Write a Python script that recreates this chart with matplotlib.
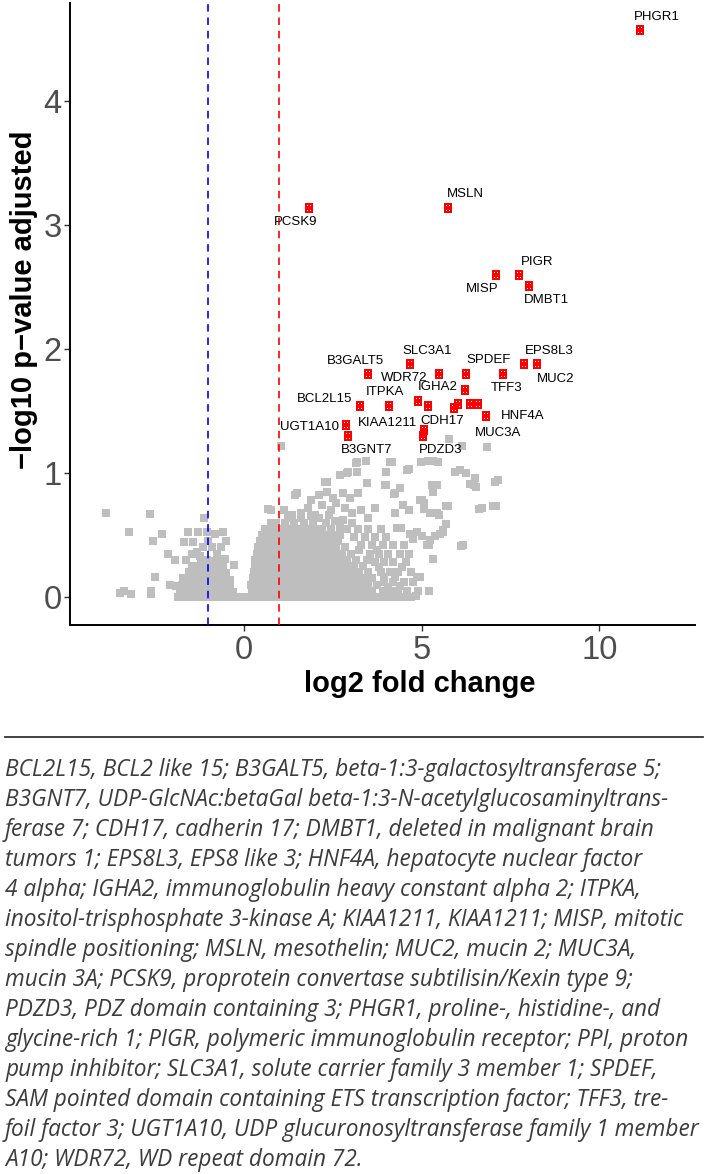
import numpy as np
import matplotlib.pyplot as plt
from matplotlib.path import Path

# significant genes: log2 fold change and -log10 adjusted p
sig_genes = ["PHGR1", "PCSK9", "MSLN", "MISP", "PIGR", "DMBT1",
             "B3GALT5", "SLC3A1", "WDR72", "SPDEF", "TFF3", "EPS8L3", "MUC2",
             "IGHA2", "BCL2L15", "ITPKA", "KIAA1211", "", "", "", "",
             "MUC3A", "HNF4A", "UGT1A10", "B3GNT7", "CDH17", "PDZD3"]
sig_fc = [11.14, 1.84, 5.73, 7.08, 7.75, 8.03,
          3.50, 4.66, 5.48, 6.24, 7.28, 7.87, 8.25,
          6.21, 3.28, 4.07, 4.89, 5.17, 5.90, 6.01, 6.36,
          6.59, 6.80, 2.86, 2.94, 5.08, 5.04]
sig_p = [4.57, 3.14, 3.14, 2.60, 2.60, 2.51,
         1.80, 1.88, 1.80, 1.80, 1.80, 1.88, 1.88,
         1.67, 1.54, 1.54, 1.58, 1.54, 1.52, 1.56, 1.56,
         1.56, 1.46, 1.39, 1.30, 1.35, 1.30]

# label offsets from the point, in pixels (ggrepel placement)
label_offset = {
    "PHGR1": (17, 13), "PCSK9": (-14, -14), "MSLN": (18, 14), "MISP": (-13, -14),
    "PIGR": (18, 13), "DMBT1": (17, -14), "B3GALT5": (-13, 13), "SLC3A1": (18, 13),
    "WDR72": (-34, -4), "SPDEF": (23, 14), "TFF3": (4, -14), "EPS8L3": (26, 13),
    "MUC2": (18, -15), "IGHA2": (-27, 3), "BCL2L15": (-36, 7), "ITPKA": (-4, 14),
    "KIAA1211": (-30, -22), "CDH17": (18, 9), "PDZD3": (18, -14), "HNF4A": (37, 0),
    "MUC3A": (20, -29), "UGT1A10": (-36, -2), "B3GNT7": (18, -14),
}

# non-significant genes (grey cloud)
ns_outliers = [
    (-3.89, 0.675), (-2.63, 0.67), (-3.22, 0.52), (-2.30, 0.51), (-2.55, 0.45),
    (-2.50, 0.16), (-3.47, 0.03), (-3.38, 0.05), (-3.18, 0.02), (-2.62, 0.02),
    (-2.60, 0.05), (-1.12, 0.64), (-2.13, 0.35), (-1.94, 0.30), (-2.09, 0.10),
    (-1.90, 0.09), (-1.57, 0.52), (-1.29, 0.52), (-1.05, 0.52), (-0.82, 0.51),
    (-0.58, 0.52), (-1.69, 0.44), (-1.43, 0.44), (-0.49, 0.45), (-1.63, 0.30),
    (-1.47, 0.35), (-1.33, 0.36), (-1.24, 0.33), (-0.75, 0.35), (-0.52, 0.31),
    (-0.28, 0.26), (-1.00, 0.45), (-0.90, 0.40), (-1.15, 0.40), (-0.65, 0.40),
]
ns_left = [
    (-1.85, 0.0), (-1.7, 0.0), (-1.55, 0.0), (-1.4, 0.0), (-1.25, 0.0), (-1.1, 0.0),
    (-0.95, 0.0), (-0.8, 0.0), (-0.65, 0.0), (-0.5, 0.0), (-0.35, 0.0), (-0.2, 0.0),
    (-0.1, 0.0), (0.0, 0.0), (0.08, 0.0),
    (-1.8, 0.05), (-1.65, 0.05), (-1.5, 0.05), (-1.35, 0.06), (-1.2, 0.05), (-1.05, 0.05),
    (-0.9, 0.06), (-0.75, 0.05), (-0.6, 0.05), (-0.45, 0.05), (-0.3, 0.04),
    (-1.75, 0.10), (-1.6, 0.10), (-1.45, 0.11), (-1.3, 0.10), (-1.15, 0.10), (-1.0, 0.11),
    (-0.85, 0.10), (-0.7, 0.10), (-0.55, 0.10), (-0.4, 0.09),
    (-1.7, 0.15), (-1.55, 0.15), (-1.4, 0.16), (-1.25, 0.15), (-1.1, 0.15), (-0.95, 0.16),
    (-0.8, 0.15), (-0.65, 0.15), (-0.5, 0.15), (-0.38, 0.14),
    (-1.55, 0.20), (-1.4, 0.21), (-1.25, 0.20), (-1.1, 0.20), (-0.95, 0.21), (-0.8, 0.20),
    (-0.65, 0.20), (-0.5, 0.19),
    (-1.45, 0.25), (-1.3, 0.25), (-1.15, 0.26), (-1.0, 0.25), (-0.85, 0.25), (-0.7, 0.25),
    (-0.58, 0.24), (-1.2, 0.29), (-1.05, 0.30), (-0.9, 0.29), (-0.75, 0.30),
]
ns_right = [
    (0.15, 0.0), (0.3, 0.0), (0.5, 0.0), (0.7, 0.0), (0.9, 0.0), (1.1, 0.0), (1.3, 0.0),
    (1.5, 0.0), (1.7, 0.0), (1.9, 0.0), (2.1, 0.0), (2.3, 0.0), (2.5, 0.0), (2.7, 0.0),
    (2.9, 0.0), (3.1, 0.0), (3.3, 0.0), (3.5, 0.0), (3.7, 0.0),
    (0.22, 0.05), (0.4, 0.05), (0.6, 0.05), (0.8, 0.05), (1.0, 0.05), (1.2, 0.05),
    (1.4, 0.05), (1.6, 0.05), (1.8, 0.05), (2.0, 0.05), (2.2, 0.05), (2.4, 0.05),
    (2.6, 0.05), (2.8, 0.05), (3.0, 0.05), (3.2, 0.05), (3.4, 0.05), (3.6, 0.05),
    (0.2, 0.10), (0.35, 0.10), (0.5, 0.10), (0.7, 0.10), (0.9, 0.10), (1.1, 0.10),
    (1.3, 0.10), (1.5, 0.10), (1.7, 0.10), (1.9, 0.10), (2.1, 0.10), (2.3, 0.10),
    (2.5, 0.10), (2.7, 0.10), (2.9, 0.10), (3.1, 0.10), (3.3, 0.10), (3.5, 0.10), (3.75, 0.10),
    (0.25, 0.15), (0.4, 0.15), (0.6, 0.15), (0.8, 0.15), (1.0, 0.15), (1.2, 0.15),
    (1.4, 0.15), (1.6, 0.15), (1.8, 0.15), (2.0, 0.15), (2.2, 0.15), (2.4, 0.15),
    (2.6, 0.15), (2.8, 0.15), (3.0, 0.15), (3.2, 0.15), (3.4, 0.15), (3.6, 0.15),
    (0.28, 0.20), (0.45, 0.20), (0.65, 0.20), (0.85, 0.20), (1.05, 0.20), (1.25, 0.20),
    (1.45, 0.20), (1.65, 0.20), (1.85, 0.20), (2.05, 0.20), (2.25, 0.20), (2.45, 0.20),
    (2.65, 0.20), (2.85, 0.20), (3.05, 0.20), (3.25, 0.20), (3.5, 0.20),
    (0.3, 0.25), (0.5, 0.25), (0.7, 0.25), (0.9, 0.25), (1.1, 0.25), (1.3, 0.25),
    (1.5, 0.25), (1.7, 0.25), (1.9, 0.25), (2.1, 0.25), (2.3, 0.25), (2.5, 0.25),
    (2.7, 0.25), (2.9, 0.25), (3.1, 0.25), (3.35, 0.25),
    (0.32, 0.30), (0.5, 0.30), (0.68, 0.30), (0.88, 0.30), (1.08, 0.30), (1.28, 0.30),
    (1.48, 0.30), (1.68, 0.30), (1.88, 0.30), (2.08, 0.30), (2.28, 0.30), (2.48, 0.30),
    (2.68, 0.30), (2.9, 0.30), (3.15, 0.30),
    (0.36, 0.35), (0.55, 0.35), (0.75, 0.35), (0.95, 0.35), (1.15, 0.35), (1.35, 0.35),
    (1.55, 0.35), (1.75, 0.35), (1.95, 0.35), (2.15, 0.35), (2.35, 0.35), (2.55, 0.35),
    (2.75, 0.35), (3.0, 0.35),
    (0.4, 0.40), (0.6, 0.40), (0.8, 0.40), (1.0, 0.40), (1.2, 0.40), (1.4, 0.40),
    (1.6, 0.40), (1.8, 0.40), (2.0, 0.40), (2.2, 0.40), (2.4, 0.40), (2.6, 0.40), (2.85, 0.40),
    (0.45, 0.45), (0.62, 0.45), (0.82, 0.45), (1.02, 0.45), (1.22, 0.45), (1.42, 0.45),
    (1.62, 0.45), (1.82, 0.45), (2.02, 0.45), (2.22, 0.45), (2.42, 0.45), (2.65, 0.45),
    (0.5, 0.50), (0.7, 0.50), (0.9, 0.50), (1.1, 0.50), (1.3, 0.50), (1.5, 0.50),
    (1.7, 0.50), (1.9, 0.50), (2.1, 0.50), (2.3, 0.50), (2.5, 0.50), (2.7, 0.50),
    (0.6, 0.55), (0.8, 0.55), (1.0, 0.55), (1.2, 0.55), (1.4, 0.55), (1.6, 0.55),
    (1.8, 0.55), (2.0, 0.55), (2.2, 0.55), (2.45, 0.55), (2.7, 0.56),
    (0.75, 0.60), (0.9, 0.60), (1.15, 0.60), (1.4, 0.60), (1.7, 0.60), (1.95, 0.60),
    (2.3, 0.60), (2.55, 0.61), (2.8, 0.62),
    (1.25, 0.64), (1.6, 0.64), (2.1, 0.64), (2.4, 0.66), (1.9, 0.65),
]
ns_mid = [
    (3.9, 0.0), (4.1, 0.0), (4.3, 0.0), (4.5, 0.0), (4.7, 0.0), (4.85, 0.01),
    (3.9, 0.05), (4.1, 0.05), (4.35, 0.05), (4.6, 0.05), (4.9, 0.05), (5.2, 0.05),
    (3.95, 0.12), (4.2, 0.12), (4.5, 0.12), (4.75, 0.12), (4.05, 0.08), (4.4, 0.09),
    (3.85, 0.20), (4.1, 0.20), (4.35, 0.20), (4.7, 0.20), (3.95, 0.16), (4.25, 0.16),
    (3.7, 0.28), (3.95, 0.28), (4.2, 0.28), (4.55, 0.28), (3.8, 0.24), (4.45, 0.24),
    (3.55, 0.35), (3.8, 0.35), (4.05, 0.35), (4.4, 0.35), (4.65, 0.35), (3.45, 0.30),
    (3.3, 0.42), (3.6, 0.42), (3.9, 0.42), (4.2, 0.42), (4.5, 0.42), (3.75, 0.38),
    (3.1, 0.48), (3.4, 0.48), (3.7, 0.48), (4.0, 0.48), (3.25, 0.38),
    (2.9, 0.55), (3.2, 0.55), (3.5, 0.55), (3.05, 0.60),
]
ns_upper = [
    (1.04, 1.22), (3.15, 1.08), (3.19, 1.09), (3.44, 1.10), (4.10, 1.09), (4.18, 1.09),
    (4.97, 1.09), (5.18, 1.10), (5.33, 1.10), (5.47, 1.09), (5.76, 1.27), (6.15, 1.22),
    (6.84, 1.21), (2.94, 1.01), (3.19, 1.01), (4.01, 1.01), (4.60, 1.02), (4.65, 1.03),
    (5.95, 1.01), (6.08, 1.02), (6.25, 1.00), (2.90, 1.00), (2.70, 0.98), (6.50, 0.96),
    (7.14, 0.94), (7.06, 0.93), (2.27, 0.93), (2.35, 0.93), (3.45, 0.92), (6.36, 0.91),
    (6.46, 0.90), (5.42, 0.90), (5.29, 0.90), (4.01, 0.90), (3.97, 0.90), (6.53, 0.89),
    (4.39, 0.88), (2.35, 0.85), (5.33, 0.85), (1.50, 0.84), (2.79, 0.84), (3.22, 0.84),
    (4.25, 0.84), (4.22, 0.83), (1.45, 0.82), (2.98, 0.80), (4.95, 0.78), (5.00, 0.78),
    (5.07, 0.76), (4.48, 0.74), (5.70, 0.73), (5.75, 0.73), (7.00, 0.73), (7.09, 0.73),
    (6.69, 0.715), (6.61, 0.71), (5.07, 0.71), (4.65, 0.70), (0.75, 0.70), (1.13, 0.70),
    (0.69, 0.71), (5.23, 0.675), (4.25, 0.675), (5.42, 0.68), (5.49, 0.66), (5.70, 0.59),
    (5.61, 0.54), (5.51, 0.51), (5.37, 0.49), (5.61, 0.52), (5.23, 0.46), (6.17, 0.42),
    (6.10, 0.41), (5.33, 0.31), (4.95, 0.16), (4.88, 0.16), (4.30, 0.555), (4.41, 0.555),
    (4.67, 0.51), (4.76, 0.47), (4.86, 0.52), (5.02, 0.49), (5.14, 0.42), (5.21, 0.42),
    (3.85, 0.55), (1.35, 0.66), (1.6, 0.68), (1.8, 0.72), (2.0, 0.66), (2.2, 0.74),
    (2.45, 0.70), (2.6, 0.76), (2.85, 0.72), (3.05, 0.68), (3.3, 0.70), (3.5, 0.64),
    (3.7, 0.72), (1.9, 0.78), (2.5, 0.80), (2.1, 0.82),
]

fc_cutoffs = [-1, 1]

caption_lines = [
    "BCL2L15, BCL2 like 15; B3GALT5, beta-1:3-galactosyltransferase 5;",
    "B3GNT7, UDP-GlcNAc:betaGal beta-1:3-N-acetylglucosaminyltrans-",
    "ferase 7; CDH17, cadherin 17; DMBT1, deleted in malignant brain",
    "tumors 1; EPS8L3, EPS8 like 3; HNF4A, hepatocyte nuclear factor",
    "4 alpha; IGHA2, immunoglobulin heavy constant alpha 2; ITPKA,",
    "inositol-trisphosphate 3-kinase A; KIAA1211, KIAA1211; MISP, mitotic",
    "spindle positioning; MSLN, mesothelin; MUC2, mucin 2; MUC3A,",
    "mucin 3A; PCSK9, proprotein convertase subtilisin/Kexin type 9;",
    "PDZD3, PDZ domain containing 3; PHGR1, proline-, histidine-, and",
    "glycine-rich 1; PIGR, polymeric immunoglobulin receptor; PPI, proton",
    "pump inhibitor; SLC3A1, solute carrier family 3 member 1; SPDEF,",
    "SAM pointed domain containing ETS transcription factor; TFF3, tre-",
    "foil factor 3; UGT1A10, UDP glucuronosyltransferase family 1 member",
    "A10; WDR72, WD repeat domain 72.",
]

W, H = 706, 1174
fig = plt.figure(figsize=(W / 100, H / 100), dpi=100)
ax = fig.add_axes([70 / W, 1 - 625 / H, 625 / W, 622 / H])

grey = np.array(ns_outliers + ns_left + ns_right + ns_mid + ns_upper)
ax.scatter(grey[:, 0], grey[:, 1], marker="s", s=27, color="#BEBEBE",
           linewidths=0, zorder=2)

# red rectangle with four small holes, like the dotted ggplot squares
outer = [(-0.4, -0.5), (0.4, -0.5), (0.4, 0.5), (-0.4, 0.5), (-0.4, -0.5)]
verts = list(outer)
codes = [Path.MOVETO] + [Path.LINETO] * 3 + [Path.CLOSEPOLY]
for cx, cy in [(-0.15, -0.2), (0.15, -0.2), (-0.15, 0.2), (0.15, 0.2)]:
    h = 0.06
    verts += [(cx - h, cy - h), (cx - h, cy + h), (cx + h, cy + h), (cx + h, cy - h), (cx - h, cy - h)]
    codes += [Path.MOVETO] + [Path.LINETO] * 3 + [Path.CLOSEPOLY]
red_marker = Path(verts, codes)
ax.scatter(sig_fc, sig_p, marker=red_marker, s=62, color="#FF0000",
           linewidths=0, zorder=4)

for name, x, y in zip(sig_genes, sig_fc, sig_p):
    if not name:
        continue
    dx, dy = label_offset[name]
    ax.annotate(name, (x, y), xytext=(dx * 0.72, dy * 0.72), textcoords="offset points",
                ha="center", va="center", fontsize=9.5, family="Liberation Sans",
                color="black", zorder=5)

ax.axvline(fc_cutoffs[0], color="#0000FF", linestyle=(0, (4.5, 3.5)), linewidth=1.2, zorder=3)
ax.axvline(fc_cutoffs[1], color="#FF0000", linestyle=(0, (4.5, 3.5)), linewidth=1.2, zorder=3)

ax.set_xlim(-4.89, 12.69)
ax.set_ylim(-0.226, 4.79)
ax.set_xticks([0, 5, 10])
ax.set_yticks([0, 1, 2, 3, 4])
for s in ["top", "right"]:
    ax.spines[s].set_visible(False)
for s in ["left", "bottom"]:
    ax.spines[s].set_linewidth(1.4)
    ax.spines[s].set_color("black")
ax.tick_params(length=4, width=1.0, color="#333333", labelsize=23.5,
               labelcolor="#4D4D4D", pad=2)
ax.tick_params(axis="x", pad=3)
for lab in ax.get_xticklabels() + ax.get_yticklabels():
    lab.set_family("Liberation Sans")

ax.set_xlabel("log2 fold change", fontsize=21, fontweight="bold", family="Liberation Sans")
ax.set_ylabel("\u2212log10 p\u2212value adjusted", fontsize=21, fontweight="bold",
              family="Liberation Sans")
ax.xaxis.set_label_coords((420 - 70) / 625, (625 - 684) / 622)
ax.yaxis.set_label_coords((24 - 70) / 625, (625 - 300) / 622)
ax.xaxis.label.set_va("center")
ax.yaxis.label.set_va("center")

# separator rule and footnote
fig.add_artist(plt.Line2D([5 / W, 703 / W], [1 - 737 / H, 1 - 737 / H],
                          color="#333333", linewidth=1.3))
y0, step = 770, 30
for i, line in enumerate(caption_lines):
    fig.text(5 / W, 1 - (y0 + i * step) / H, line, ha="left", va="center",
             fontsize=16.3, style="italic", family="Open Sans", color="#3C3C3C")

fig.savefig("out.png", dpi=100)
